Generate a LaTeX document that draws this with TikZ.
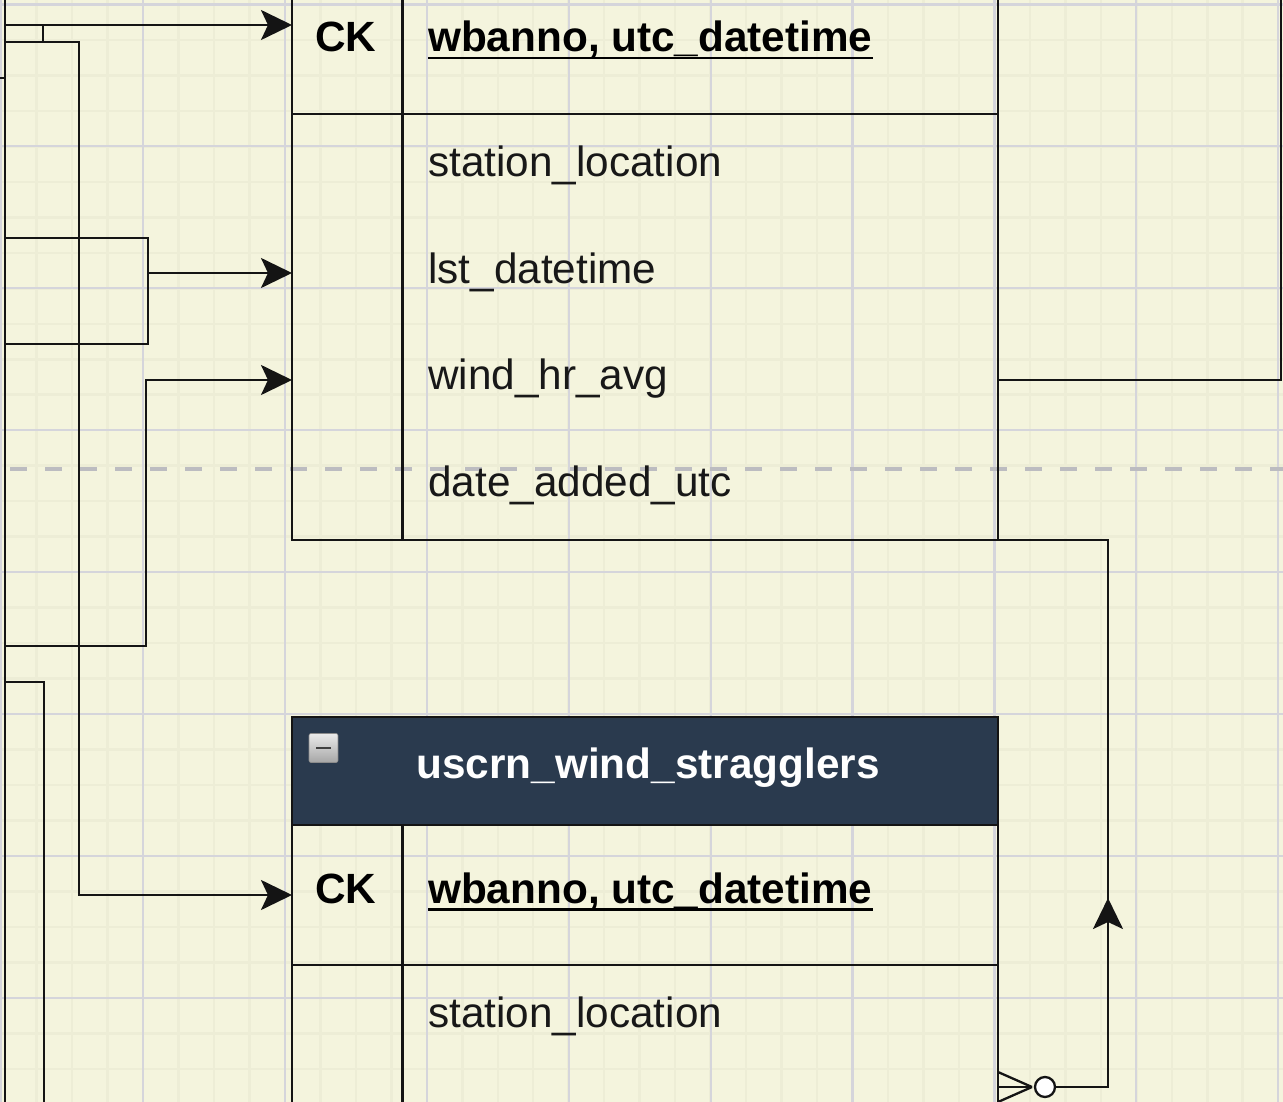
\documentclass[tikz,border=0pt]{standalone}
\usepackage{fontspec}
\setmainfont{Liberation Sans}
\usetikzlibrary{arrows.meta,shapes.geometric}

\definecolor{paper}{RGB}{244,244,221}
\definecolor{gridminor}{RGB}{237,237,214}
\definecolor{gridmajor}{RGB}{213,213,219}
\definecolor{headfill}{RGB}{42,58,78}
\definecolor{dashgrey}{RGB}{188,188,192}
\definecolor{inkline}{RGB}{20,20,20}
\definecolor{inktext}{RGB}{24,24,24}

\begin{document}
\begin{tikzpicture}[x=1pt,y=-1pt,
  wire/.style={draw=inkline, line width=2.5pt, line join=miter},
  arrowwire/.style={wire, -{Stealth[length=31pt,width=30pt,inset=7pt]}},
  tablebox/.style={draw=inkline, line width=2.5pt, fill=none, inner sep=0pt, outer sep=0pt, rectangle},
  headbox/.style={draw=inkline, line width=2.5pt, fill=headfill, inner sep=0pt, outer sep=0pt, rectangle},
  fieldtext/.style={font=\fontsize{42.3}{50}\selectfont, text=inktext, inner sep=0pt, anchor=base west},
  keytext/.style={font=\fontsize{42.3}{50}\selectfont\bfseries, text=black, inner sep=0pt, anchor=base west},
  titletext/.style={font=\fontsize{42.3}{50}\selectfont\bfseries, text=white, inner sep=0pt, anchor=base},
  keyline/.style={draw=black, line width=2.2pt},
  zeromark/.style={circle, draw=inkline, line width=2.3pt, fill=white, minimum size=20pt, inner sep=0pt}
]
% canvas
\fill[paper] (0,0) rectangle (1283,1102);
\useasboundingbox (0,0) rectangle (1283,1102);

% background grid
\begin{scope}
\clip (0,0) rectangle (1283,1102);
\foreach \i in {-4,...,36} {
  \draw[gridminor, line width=2.5pt] ({143+\i*35.475},0) -- ({143+\i*35.475},1102);
}
\foreach \j in {0,...,31} {
  \draw[gridminor, line width=2.5pt] (0,{4.5+\j*35.475}) -- (1283,{4.5+\j*35.475});
}
\foreach \i in {-1,...,9} {
  \draw[gridmajor, line width=2.2pt] ({143+\i*141.9},0) -- ({143+\i*141.9},1102);
}
\foreach \j in {0,...,7} {
  \draw[gridmajor, line width=2.2pt] (0,{4.5+\j*141.9}) -- (1283,{4.5+\j*141.9});
}
% page break marker
\draw[dashgrey, line width=4pt, dash pattern=on 17pt off 18pt, dash phase=25pt] (0,469) -- (1283,469);
\end{scope}

% ---------- table: upper entity ----------
\node[tablebox, minimum width=706pt, minimum height=560pt, anchor=south west] (tblA) at (292,540) {};
\draw[wire] (292,114) -- (998,114);
\draw[wire] (402.5,-10) -- (402.5,540);
\node[keytext] (ckA) at (315,51.7) {CK};
\node[keytext] (keyA) at (428,51.7) {wbanno, utc\_datetime};
\draw[keyline] ([yshift=-6.5pt]keyA.base west) -- ([yshift=-6.5pt]keyA.base east);
\node[fieldtext] (fA1) at (428,177) {station\_location};
\node[fieldtext] (fA2) at (428,283.5) {lst\_datetime};
\node[fieldtext] (fA3) at (428,389) {wind\_hr\_avg};
\node[fieldtext] (fA4) at (428,496) {date\_added\_utc};

% ---------- table: uscrn_wind_stragglers ----------
\node[headbox, minimum width=706pt, minimum height=108pt, anchor=north west] (hdrB) at (292,717) {};
\node[tablebox, minimum width=706pt, minimum height=300pt, anchor=north west] (tblB) at (292,825) {};
\draw[wire] (292,965) -- (998,965);
\draw[wire] (402.5,825) -- (402.5,1110);
\node[rectangle, rounded corners=2pt, minimum width=29pt, minimum height=29pt, inner sep=0pt,
      top color=black!8, bottom color=black!35, draw=black!45, line width=0.6pt] (collapseB) at (323.5,748) {};
\draw[black!75, line width=2.2pt] ([xshift=-7.5pt]collapseB.center) -- ([xshift=7.5pt]collapseB.center);
\node[titletext] (titleB) at (648,778.3) {uscrn\_wind\_stragglers};
\node[keytext] (ckB) at (315,903) {CK};
\node[keytext] (keyB) at (428,903) {wbanno, utc\_datetime};
\draw[keyline] ([yshift=-6.5pt]keyB.base west) -- ([yshift=-6.5pt]keyB.base east);
\node[fieldtext] (fB1) at (428,1027) {station\_location};

% ---------- connector endpoints ----------
\coordinate (railTop) at (5,-3);
\coordinate (railBot) at (5,1105);
\coordinate (stub) at (0,78);
\coordinate (srcA) at (5,25);
\coordinate (joinA) at (43,25);
\coordinate (joinB) at (43,42);
\coordinate (srcB) at (5,42);
\coordinate (bendB) at (79,895);
\coordinate (loopTop) at (5,238);
\coordinate (loopCorner) at (148,344);
\coordinate (loopEnd) at (5,344);
\coordinate (loopOut) at (148,273);
\coordinate (srcC) at (5,646);
\coordinate (bendC) at (146,380);
\coordinate (srcD) at (5,682);
\coordinate (endD) at (44,1105);
\coordinate (outR) at (1281,380);
\coordinate (endR) at (1281,-3);
\coordinate (riser) at (1108,1087);
\coordinate (riserTop) at (1108,540);
\coordinate (riserMark) at (1108,1000);
\coordinate (riserTip) at (1108,898);

% ---------- connectors ----------
\draw[wire] (railTop) -- (railBot);
\draw[wire] (stub) -- (stub -| railTop);
\draw[arrowwire] (srcA) -- (srcA -| tblA.west);
\draw[wire] (joinA) -- (joinB);
\draw[arrowwire] (srcB) -| (bendB) -- (bendB -| tblB.west);
\draw[wire] (loopTop) -| (loopCorner) -- (loopEnd);
\draw[arrowwire] (loopOut) -- (loopOut -| tblA.west);
\draw[arrowwire] (srcC) -| (bendC) -- (bendC -| tblA.west);
\draw[wire] (srcD) -| (endD);
\draw[wire] (outR -| tblA.east) -- (outR) -- (endR);

% zero-or-many end on uscrn_wind_stragglers
\node[zeromark] (zeroB) at (1045,1087) {};
\coordinate (footTip) at (1032,1087);
\draw[wire, line width=2.3pt] (tblB.east |- 0,1072) -- (footTip);
\draw[wire, line width=2.3pt] (tblB.east |- 0,1087) -- (footTip);
\draw[wire, line width=2.3pt] (tblB.east |- 0,1102) -- (footTip);
\draw[wire] (zeroB.east) -- (riser) -- (riserTop) -- (riserTop -| tblA.east);
\draw[arrowwire] (riserMark) -- (riserTip);
\end{tikzpicture}
\end{document}
